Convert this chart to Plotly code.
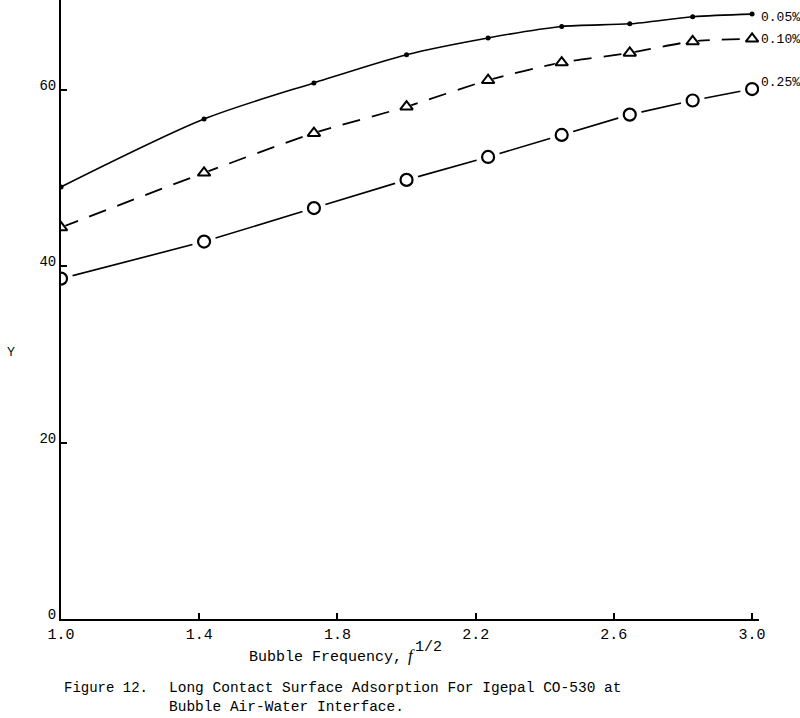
import plotly.graph_objects as go

x_vals = [1.0, 1.414, 1.732, 2.0, 2.236, 2.449, 2.646, 2.828, 3.0]
y_005 = [49.0, 56.7, 60.8, 64.0, 65.9, 67.2, 67.5, 68.3, 68.6]
y_010 = [44.4, 50.6, 55.1, 58.1, 61.1, 63.1, 64.2, 65.5, 65.8]
y_025 = [38.6, 42.8, 46.6, 49.8, 52.4, 54.9, 57.2, 58.8, 60.1]
labels = ["0.05%", "0.10%", "0.25%"]
x_ticks = [1.0, 1.4, 1.8, 2.2, 2.6, 3.0]
x_tick_text = ["1.0", "1.4", "1.8", "2.2", "2.6", "3.0"]
y_ticks = [0, 20, 40, 60]

FONT = "Liberation Mono"
W, H = 800, 718
L, R, T, B = 61, 41, 0, 99
PW, PH = W - L - R, H - T - B
label_yshift = [-3, -1, 7]


def px(xp):
    return (xp - L) / PW


def py(yp):
    return (H - B - yp) / PH


fig = go.Figure()

fig.add_trace(go.Scatter(x=x_vals, y=y_005, mode="lines+markers",
                         line=dict(color="black", width=1.6, shape="spline", smoothing=0.8),
                         marker=dict(symbol="circle", size=5, color="black")))
fig.add_trace(go.Scatter(x=x_vals, y=y_010, mode="lines",
                         line=dict(color="black", width=1.8, dash="18px,12px", shape="spline", smoothing=0.8)))
fig.add_trace(go.Scatter(x=x_vals, y=y_010, mode="markers",
                         marker=dict(symbol="triangle-up", size=15, color="white",
                                     line=dict(color="white", width=0))))
fig.add_trace(go.Scatter(x=x_vals, y=y_010, mode="markers",
                         marker=dict(symbol="triangle-up-open", size=11, color="black",
                                     line=dict(color="black", width=2))))
fig.add_trace(go.Scatter(x=x_vals, y=y_025, mode="lines",
                         line=dict(color="black", width=1.6)))
fig.add_trace(go.Scatter(x=x_vals, y=y_025, mode="markers",
                         marker=dict(symbol="circle", size=24, color="white",
                                     line=dict(color="white", width=0))))
fig.add_trace(go.Scatter(x=x_vals, y=y_025, mode="markers",
                         marker=dict(symbol="circle-open", size=12, color="black",
                                     line=dict(color="black", width=2.2))))

for lab, ys, ysh in zip(labels, [y_005, y_010, y_025], label_yshift):
    fig.add_annotation(x=x_vals[-1], y=ys[-1], text=lab, showarrow=False,
                       xanchor="left", yanchor="middle", xshift=7, yshift=ysh,
                       font=dict(family=FONT, size=13, color="black"))

fig.add_annotation(xref="paper", yref="paper", x=px(5), y=py(352), text="Y",
                   showarrow=False, font=dict(family="Liberation Sans", size=12, color="black"))
fig.add_annotation(xref="paper", yref="paper", x=px(247), xanchor="left", y=py(657),
                   yanchor="middle", text="Bubble Frequency,", showarrow=False,
                   font=dict(family=FONT, size=15, color="black"))
fig.add_annotation(xref="paper", yref="paper", x=px(406), xanchor="left", y=py(655),
                   yanchor="middle", text="<i>f</i>", showarrow=False,
                   font=dict(family="Liberation Serif", size=17, color="black"))
fig.add_annotation(xref="paper", yref="paper", x=px(413), xanchor="left", y=py(647),
                   yanchor="middle", text="1/2", showarrow=False,
                   font=dict(family=FONT, size=15, color="black"))
fig.add_annotation(xref="paper", yref="paper", x=px(62), xanchor="left", y=py(688),
                   yanchor="middle", text="Figure 12.",
                   showarrow=False, font=dict(family=FONT, size=14, color="black"))
fig.add_annotation(xref="paper", yref="paper", x=px(167), xanchor="left", y=py(688),
                   yanchor="middle", text="Long Contact Surface Adsorption For Igepal CO-530 at",
                   showarrow=False, font=dict(family=FONT, size=14.5, color="black"))
fig.add_annotation(xref="paper", yref="paper", x=px(167), xanchor="left", y=py(707),
                   yanchor="middle", text="Bubble Air-Water Interface.",
                   showarrow=False, font=dict(family=FONT, size=14.5, color="black"))

fig.update_layout(
    width=W, height=H,
    margin=dict(l=L, r=R, t=T, b=B),
    paper_bgcolor="white", plot_bgcolor="white",
    showlegend=False,
    font=dict(family=FONT, size=14, color="black"),
    xaxis=dict(range=[1.0, 3.02], tickvals=x_ticks, ticktext=x_tick_text,
               ticks="inside", ticklen=6, tickwidth=1.5, tickcolor="black",
               showline=True, linecolor="black", linewidth=2, showgrid=False, zeroline=False,
               tickfont=dict(family=FONT, size=15)),
    yaxis=dict(range=[0, 70.2], tickvals=y_ticks,
               ticks="inside", ticklen=6, tickwidth=1.5, tickcolor="black",
               showline=True, linecolor="black", linewidth=2, showgrid=False, zeroline=False,
               ticklabelshift=-5,
               tickfont=dict(family=FONT, size=14)),
)

fig.write_html("out.html")
